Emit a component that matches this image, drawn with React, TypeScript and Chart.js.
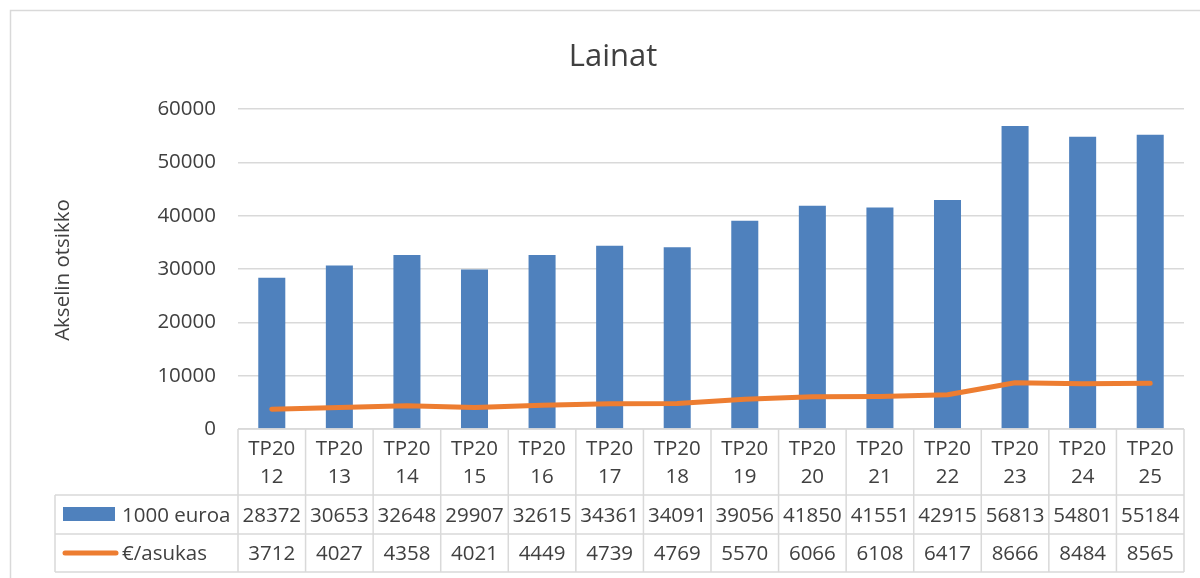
import React, { useEffect, useRef } from "react";
import { Chart, registerables } from "chart.js";

Chart.register(...registerables);

const categories = ["TP2012", "TP2013", "TP2014", "TP2015", "TP2016", "TP2017", "TP2018", "TP2019", "TP2020", "TP2021", "TP2022", "TP2023", "TP2024", "TP2025"];
const loans = [28372, 30653, 32648, 29907, 32615, 34361, 34091, 39056, 41850, 41551, 42915, 56813, 54801, 55184];
const perResident = [3712, 4027, 4358, 4021, 4449, 4739, 4769, 5570, 6066, 6108, 6417, 8666, 8484, 8565];
const seriesNames = ["1000 euroa", "€/asukas"];
const chartTitle = "Lainat";
const yTitle = "Akselin otsikko";

const FONT = "'Open Sans', 'Noto Sans', sans-serif";
const TEXT = "#404040";
const GRID = "#d9d9d9";
const BLUE = "#4f81bd";
const ORANGE = "#ed7d31";

const tablePlugin = {
  id: "tablePlugin",
  afterDraw(chart: any) {
    const ctx = chart.ctx as CanvasRenderingContext2D;
    const x = chart.scales.x;
    const area = chart.chartArea;
    const W = chart.width;
    const H = chart.height;
    ctx.save();
    // frame
    ctx.strokeStyle = GRID;
    ctx.lineWidth = 1.5;
    ctx.beginPath();
    ctx.moveTo(10.5, H);
    ctx.lineTo(10.5, 10.5);
    ctx.lineTo(W, 10.5);
    ctx.stroke();

    // title
    ctx.fillStyle = TEXT;
    ctx.textAlign = "center";
    ctx.textBaseline = "alphabetic";
    ctx.font = `31px ${FONT}`;
    ctx.fillText(chartTitle, 613, 66);

    // y title
    ctx.save();
    ctx.translate(69, 270);
    ctx.rotate(-Math.PI / 2);
    ctx.font = `20.5px ${FONT}`;
    ctx.textAlign = "center";
    ctx.fillText(yTitle, 0, 0);
    ctx.restore();

    // table
    const n = categories.length;
    const step = x.getPixelForValue(1) - x.getPixelForValue(0);
    const top = area.bottom;
    const r1 = top + 66;
    const r2 = r1 + 39;
    const r3 = r2 + 38;
    const leftCol = 55;
    const firstX = x.getPixelForValue(0) - step / 2;
    const lastX = x.getPixelForValue(n - 1) + step / 2;

    ctx.strokeStyle = GRID;
    ctx.lineWidth = 1.5;
    ctx.beginPath();
    ctx.moveTo(firstX, top);
    ctx.lineTo(lastX, top);
    for (const yy of [r1, r2, r3]) {
      ctx.moveTo(leftCol, yy);
      ctx.lineTo(lastX, yy);
    }
    for (let i = 0; i <= n; i++) {
      const bx = firstX + i * step;
      ctx.moveTo(bx, top);
      ctx.lineTo(bx, r3);
    }
    ctx.moveTo(leftCol, r1);
    ctx.lineTo(leftCol, r3);
    ctx.stroke();

    ctx.fillStyle = TEXT;
    ctx.font = `20.5px ${FONT}`;
    ctx.textAlign = "center";
    ctx.textBaseline = "alphabetic";
    for (let i = 0; i < n; i++) {
      const cx = x.getPixelForValue(i);
      const lab = categories[i];
      ctx.fillText(lab.slice(0, 4), cx, top + 26);
      ctx.fillText(lab.slice(4), cx, top + 54);
      ctx.fillText(String(loans[i]), cx, r1 + 27);
      ctx.fillText(String(perResident[i]), cx, r2 + 26);
    }

    // legend keys
    ctx.fillStyle = BLUE;
    ctx.fillRect(63, r1 + 12, 52, 14);
    ctx.strokeStyle = ORANGE;
    ctx.lineWidth = 5;
    ctx.lineCap = "round";
    ctx.beginPath();
    ctx.moveTo(65, r2 + 19);
    ctx.lineTo(116, r2 + 19);
    ctx.stroke();
    ctx.fillStyle = TEXT;
    ctx.textAlign = "left";
    ctx.fillText(seriesNames[0], 122, r1 + 27);
    ctx.fillText(seriesNames[1], 122, r2 + 26);
    ctx.restore();
  },
};

export default function App() {
  const ref = useRef<HTMLCanvasElement>(null);
  useEffect(() => {
    if (!ref.current) return;
    const chart = new Chart(ref.current, {
      type: "bar",
      data: {
        labels: categories,
        datasets: [
          {
            type: "line",
            label: seriesNames[1],
            data: perResident,
            borderColor: ORANGE,
            backgroundColor: ORANGE,
            borderWidth: 5,
            pointRadius: 0,
            tension: 0,
            borderCapStyle: "round",
            borderJoinStyle: "round",
            order: 0,
          } as any,
          {
            type: "bar",
            label: seriesNames[0],
            data: loans,
            backgroundColor: BLUE,
            borderWidth: 0,
            barPercentage: 0.4,
            categoryPercentage: 1,
            order: 1,
          },
        ],
      },
      options: {
        animation: false,
        responsive: false,
        devicePixelRatio: 1,
        layout: { padding: { left: 0, top: 109, right: 16, bottom: 149 } },
        plugins: {
          legend: { display: false },
          title: { display: false },
          tooltip: { enabled: false },
        },
        scales: {
          x: { display: false },
          y: {
            min: 0,
            max: 60000,
            afterFit: (s: any) => {
              s.width = 238;
            },
            ticks: {
              stepSize: 10000,
              padding: 22,
              color: TEXT,
              font: { family: FONT, size: 20.5 },
              callback: (v: any) => String(v),
            },
            grid: { color: GRID, lineWidth: 1.5, drawTicks: false },
            border: { display: false },
          },
        },
      },
      plugins: [tablePlugin],
    });
    return () => chart.destroy();
  }, []);
  return (
    <div style={{ position: "fixed", left: 0, top: 0, width: 1200, height: 578, background: "#fff" }}>
      <canvas ref={ref} width={1200} height={578} style={{ display: "block" }} />
    </div>
  );
}
